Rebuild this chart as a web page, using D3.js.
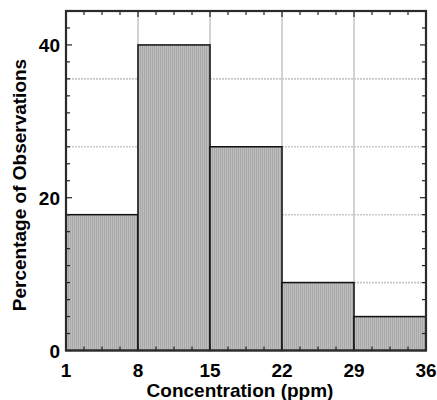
<html>
<head>
<script src="https://cdn.jsdelivr.net/npm/d3@7"></script>
<style type="text/css">
body { margin: 0; background: white; }
text { font-family: "Liberation Sans", Arial, sans-serif; font-weight: bold; fill: #000; }
.frame { fill: none; stroke: #2a2a2a; stroke-width: 2.2; }
.bar { stroke: #111; stroke-width: 1.5; }
.grid line { stroke: #c8c8c8; stroke-width: 1.6; }
.tick-mark { stroke: #222; stroke-width: 1.2; }
</style>
</head>
<body>
<script type="text/javascript">
var width = 437,
    height = 400;

// histogram data
var binEdges = [1, 8, 15, 22, 29, 36];
var percentages = [17.78, 40, 26.67, 8.89, 4.44];
var xTickLabels = [1, 8, 15, 22, 29, 36];
var yTickLabels = [0, 20, 40];
var yMax = 44.44;
var obsStep = 100 / 45;   // one observation in percent

var x = d3.scaleLinear().domain([1, 36]).range([66, 426]);
var y = d3.scaleLinear().domain([0, yMax]).range([350.5, 11]);

var svg = d3.select('body')
    .append('svg')
        .attr('width', width)
        .attr('height', height);

var defs = svg.append('defs');
var pat = defs.append('pattern')
    .attr('id', 'hatch')
    .attr('patternUnits', 'userSpaceOnUse')
    .attr('width', 2)
    .attr('height', 4);
pat.append('rect').attr('width', 2).attr('height', 4).attr('fill', '#bdbdbd');
pat.append('rect').attr('width', 1).attr('height', 4).attr('fill', '#a9a9a9');

// grid
var grid = svg.append('g').attr('class', 'grid');
grid.selectAll('line.v')
    .data(binEdges.slice(1, -1))
    .enter().append('line')
        .attr('x1', function(d){ return x(d); })
        .attr('x2', function(d){ return x(d); })
        .attr('y1', y(yMax))
        .attr('y2', y(0));
grid.selectAll('line.h')
    .data(d3.range(1, 5).map(function(i){ return i * 4 * obsStep; }))
    .enter().append('line')
        .attr('x1', x(1))
        .attr('x2', x(36))
        .attr('y1', function(d){ return y(d); })
        .attr('y2', function(d){ return y(d); })
        .style('stroke-dasharray', '2,1');

// bars
svg.selectAll('rect.bar')
    .data(percentages)
    .enter()
    .append('rect')
        .attr('class', 'bar')
        .attr('x', function(d, i){ return x(binEdges[i]); })
        .attr('y', function(d){ return y(d); })
        .attr('width', function(d, i){ return x(binEdges[i + 1]) - x(binEdges[i]); })
        .attr('height', function(d){ return y(0) - y(d); })
        .attr('fill', 'url(#hatch)');

// inward tick marks on all four sides
var xMinor = d3.range(0, 21).map(function(i){ return 1 + i * 1.75; });
var yMinor = d3.range(0, 21).map(function(i){ return i * obsStep; });
var ticks = svg.append('g');

function isMajorX(v){ return binEdges.some(function(e){ return Math.abs(e - v) < 1e-6; }); }
function isMajorY(v){ return yTickLabels.some(function(e){ return Math.abs(e - v) < 1e-6; }); }

xMinor.forEach(function(v){
    var len = isMajorX(v) ? 6 : 4;
    ticks.append('line').attr('class', 'tick-mark')
        .attr('x1', x(v)).attr('x2', x(v))
        .attr('y1', y(0)).attr('y2', y(0) - len);
    ticks.append('line').attr('class', 'tick-mark')
        .attr('x1', x(v)).attr('x2', x(v))
        .attr('y1', y(yMax)).attr('y2', y(yMax) + len);
});
yMinor.forEach(function(v){
    var len = isMajorY(v) ? 6 : 4;
    ticks.append('line').attr('class', 'tick-mark')
        .attr('x1', x(1)).attr('x2', x(1) + len)
        .attr('y1', y(v)).attr('y2', y(v));
    ticks.append('line').attr('class', 'tick-mark')
        .attr('x1', x(36)).attr('x2', x(36) - len)
        .attr('y1', y(v)).attr('y2', y(v));
});

// frame
svg.append('rect')
    .attr('class', 'frame')
    .attr('x', x(1))
    .attr('y', y(yMax))
    .attr('width', x(36) - x(1))
    .attr('height', y(0) - y(yMax));

// tick labels
svg.selectAll('text.xl')
    .data(xTickLabels)
    .enter().append('text')
        .attr('x', function(d){ return x(d); })
        .attr('y', 377)
        .attr('text-anchor', 'middle')
        .style('font-size', '19px')
        .text(function(d){ return d; });

svg.selectAll('text.yl')
    .data(yTickLabels)
    .enter().append('text')
        .attr('x', 60)
        .attr('y', function(d){ return y(d) + 7; })
        .attr('text-anchor', 'end')
        .style('font-size', '19px')
        .text(function(d){ return d; });

// axis titles
svg.append('text')
    .attr('x', 240)
    .attr('y', 397)
    .attr('text-anchor', 'middle')
    .style('font-size', '19px')
    .text('Concentration (ppm)');

svg.append('text')
    .attr('transform', 'translate(26,185) rotate(-90)')
    .attr('text-anchor', 'middle')
    .style('font-size', '19px')
    .text('Percentage of Observations');
</script>
</body>
</html>
